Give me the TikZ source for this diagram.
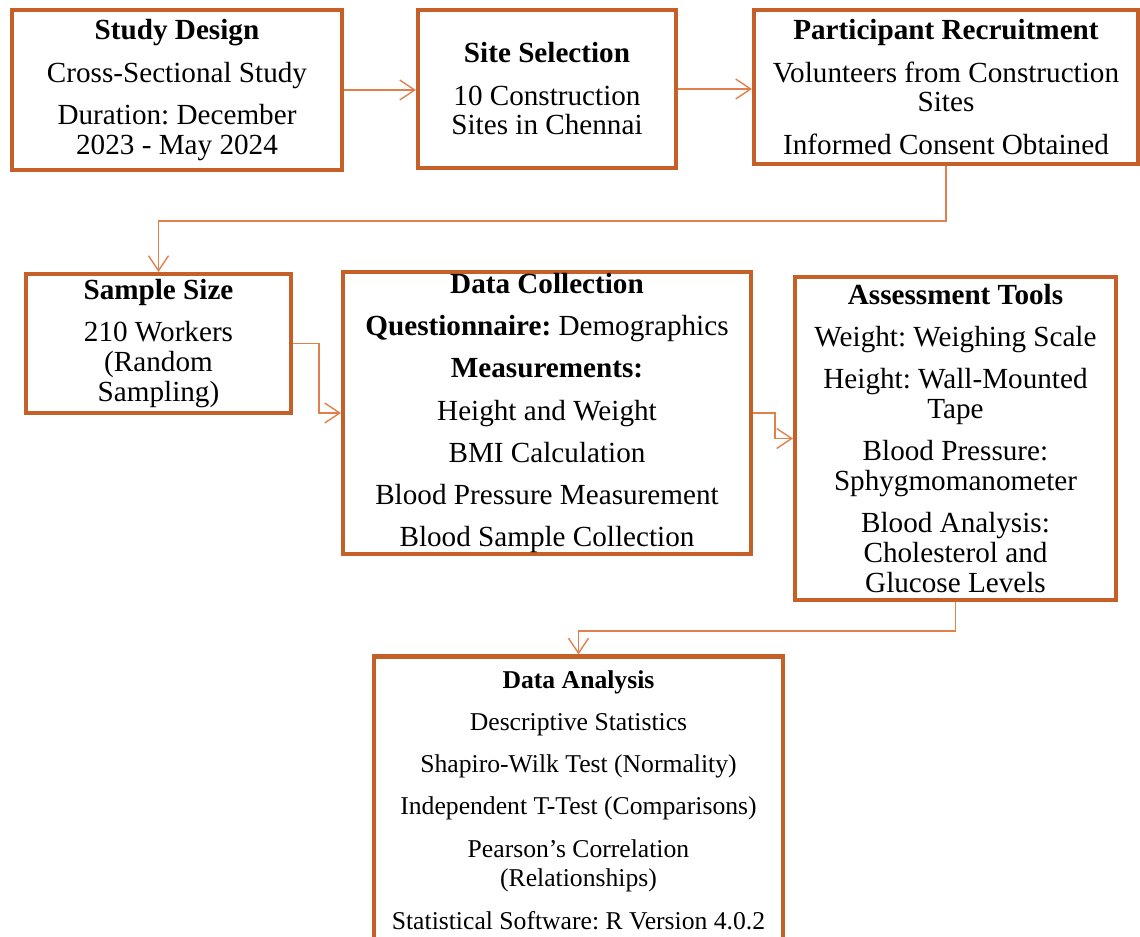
\documentclass[tikz,border=0pt]{standalone}
\usepackage{fontspec}
\setmainfont{Liberation Serif}
\usepackage{xcolor}
\usepackage{tikz}
\usetikzlibrary{arrows.meta, positioning}

\definecolor{boxorange}{RGB}{197,96,40}
\definecolor{linkorange}{RGB}{225,128,75}
\frenchspacing

\begin{document}
\begin{tikzpicture}[
    x=0.02cm, y=-0.02cm,
    node/.style={rectangle, draw=boxorange, line width=2.3pt, inner sep=0pt,
      align=center, font=\fontsize{16.6pt}{17pt}\selectfont},
    arrow/.style={draw=linkorange, line width=0.8pt,
      -{Straight Barb[length=0.3cm, width=0.4cm]}}
]
\useasboundingbox (0,0) rectangle (1140,937);
\clip (0,0) rectangle (1140,937);

% first row
\node[node, minimum width=330*0.02cm, minimum height=160*0.02cm] (design) at (177,90)
  {\textbf{Study Design}\\[7pt] Cross-Sectional Study\\[7pt] Duration: December\\ 2023 - May 2024};
\node[node, minimum width=258*0.02cm, minimum height=158*0.02cm] (site) at (547,89)
  {\textbf{Site Selection}\\[7pt] 10 Construction\\ Sites in Chennai};
\node[node, minimum width=384*0.02cm, minimum height=154*0.02cm] (recruit) at (946,87)
  {\textbf{Participant Recruitment}\\[7pt] Volunteers from Construction\\ Sites\\[7pt] Informed Consent Obtained};

% second row
\node[node, minimum width=265*0.02cm, minimum height=139*0.02cm] (sample) at (158.5,343.5)
  {\textbf{Sample Size}\\[7pt] 210 Workers\\ (Random\\ Sampling)};
\node[node, minimum width=408*0.02cm, minimum height=282*0.02cm] (collect) at (547,413)
  {\textbf{Data Collection}\\[7pt] \textbf{Questionnaire:} Demographics\\[7pt] \textbf{Measurements:}\\[7pt]
   Height and Weight\\[7pt] BMI Calculation\\[7pt] Blood Pressure Measurement\\[7pt] Blood Sample Collection};
\node[node, minimum width=321*0.02cm, minimum height=323*0.02cm] (tools) at (955.5,438.5)
  {\textbf{Assessment Tools}\\[7pt] Weight: Weighing Scale\\[7pt] Height: Wall-Mounted\\ Tape\\[7pt]
   Blood Pressure:\\ Sphygmomanometer\\[7pt] Blood Analysis:\\ Cholesterol and\\ Glucose Levels};

% last box
\node[node, minimum width=409*0.02cm, minimum height=287*0.02cm,
      font=\fontsize{14.6pt}{17pt}\selectfont] (analysis) at (578.5,800)
  {\textbf{Data Analysis}\\[7pt] Descriptive Statistics\\[7pt] Shapiro-Wilk Test (Normality)\\[7pt]
   Independent T-Test (Comparisons)\\[7pt] Pearson's Correlation\\ (Relationships)\\[7pt]
   Statistical Software: R Version 4.0.2};

\draw[arrow] (design.east) -- (site.west |- design.east);
\draw[arrow] (site.east) -- (recruit.west |- site.east);
\draw[arrow] (recruit.south) -- ++(0,55) -| (sample.north);
\draw[arrow] (sample.east) -- ++(26,0) |- (collect.west);
\draw[arrow] (collect.east) -- ++(22,0) |- (tools.west);
\draw[arrow] (tools.south) -- ++(0,29) -| (analysis.north);
\end{tikzpicture}
\end{document}
